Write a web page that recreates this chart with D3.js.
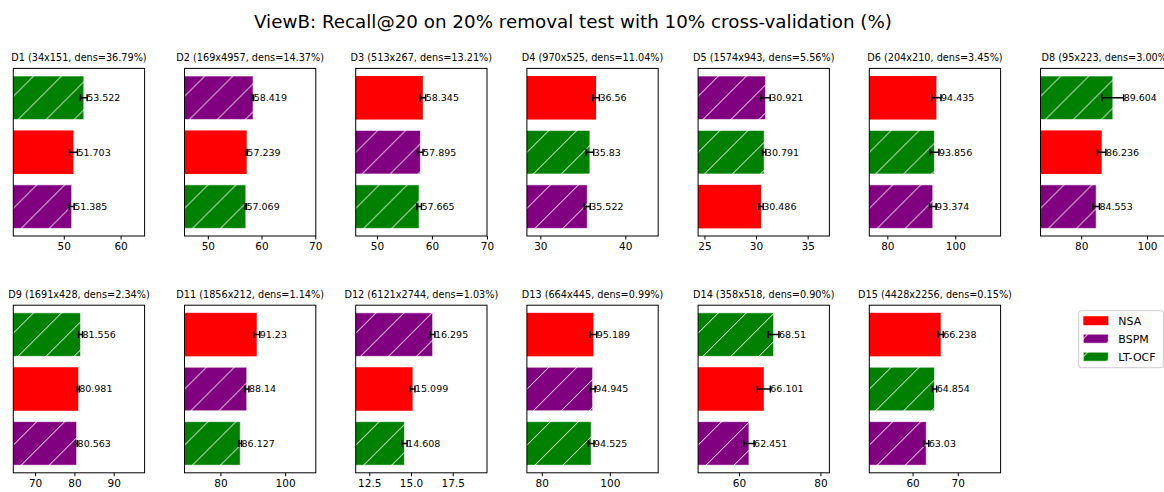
<!DOCTYPE html>
<html>
<head>
<meta charset="utf-8">
<script src="https://cdn.jsdelivr.net/npm/d3@7"></script>
<style>
  body { margin: 0; background: #fff; }
  text { font-family: "DejaVu Sans", sans-serif; fill: #000; }
</style>
</head>
<body>
<div id="container"></div>
<script>
/* CONSTANTS AND GLOBALS */
const width = 1164,
  height = 492;

// panel grid (7 columns, 2 rows)
const colLeft = 13.3, colStep = 171.2, panelW = 131.3;
const rowTops = [68.4, 305.2], panelH = 167.6;

/* DATA */
const methods = ["NSA", "BSPM", "LT-OCF"];
const colors = {"NSA": "red", "BSPM": "purple", "LT-OCF": "green"};
const hatched = {"NSA": false, "BSPM": true, "LT-OCF": true};

const panelTitles = [
  "D1 (34x151, dens=36.79%)", "D2 (169x4957, dens=14.37%)", "D3 (513x267, dens=13.21%)",
  "D4 (970x525, dens=11.04%)", "D5 (1574x943, dens=5.56%)", "D6 (204x210, dens=3.45%)",
  "D8 (95x223, dens=3.00%)", "D9 (1691x428, dens=2.34%)", "D11 (1856x212, dens=1.14%)",
  "D12 (6121x2744, dens=1.03%)", "D13 (664x445, dens=0.99%)", "D14 (358x518, dens=0.90%)",
  "D15 (4428x2256, dens=0.15%)"
];

const nsaValues   = [51.703, 57.239, 58.345, 36.56, 30.486, 94.435, 86.236, 80.981, 91.23, 15.099, 95.189, 66.101, 66.238];
const bspmValues  = [51.385, 58.419, 57.895, 35.522, 30.921, 93.374, 84.553, 80.563, 88.14, 16.295, 94.945, 62.451, 63.03];
const ltocfValues = [53.522, 57.069, 57.665, 35.83, 30.791, 93.856, 89.604, 81.556, 86.127, 14.608, 94.525, 68.51, 64.854];

// std (error bar half widths)
const nsaErr   = [0.70, 0.12, 0.52, 0.39, 0.21, 1.37, 1.27, 0.25, 0.93, 0.14, 0.98, 1.60, 0.55];
const bspmErr  = [0.44, 0.12, 0.49, 0.35, 0.45, 0.98, 1.00, 0.25, 0.67, 0.14, 0.74, 1.27, 0.55];
const ltocfErr = [0.59, 0.12, 0.42, 0.45, 0.16, 1.33, 3.30, 0.51, 0.41, 0.16, 0.84, 1.31, 0.48];

const tickValues = [
  [50, 60], [50, 60, 70], [50, 60, 70], [30, 40], [25, 30, 35], [80, 100], [80, 100],
  [70, 80, 90], [80, 100], [12.5, 15, 17.5], [80, 100], [60, 80], [60, 70]
];

/* CREATE SVG ELEMENT */
const svg = d3.select("#container")
  .append("svg")
  .attr("width", width)
  .attr("height", height);

const defs = svg.append("defs");

// hatch patterns "/" in white
Object.keys(colors).forEach(m => {
  const p = defs.append("pattern")
    .attr("id", "hatch-" + m)
    .attr("patternUnits", "userSpaceOnUse")
    .attr("width", 28)
    .attr("height", 28);
  p.append("rect").attr("width", 28).attr("height", 28).attr("fill", colors[m]);
  p.append("path")
    .attr("d", "M-7,7 L7,-7 M0,28 L28,0 M21,35 L35,21")
    .attr("stroke", "white")
    .attr("stroke-width", 1);
});

const fillFor = m => hatched[m] ? `url(#hatch-${m})` : colors[m];

// suptitle
svg.append("text")
  .attr("x", 573)
  .attr("y", 28)
  .attr("text-anchor", "middle")
  .style("font-size", "18.3px")
  .text("ViewB: Recall@20 on 20% removal test with 10% cross-validation (%)");

/* DRAW PANELS */
panelTitles.forEach((title, i) => {
  const col = i % 7, row = Math.floor(i / 7);
  const x0 = colLeft + col * colStep, y0 = rowTops[row];

  const rows = methods.map((m, k) => ({
    method: m,
    value: [nsaValues, bspmValues, ltocfValues][k][i],
    err: [nsaErr, bspmErr, ltocfErr][k][i]
  })).sort((a, b) => b.value - a.value); // biggest on top

  const lo = d3.min(rows, d => d.value) * 0.8,
    hi = d3.max(rows, d => d.value) * 1.2;

  const xScale = d3.scaleLinear()
    .domain([lo, hi])
    .range([0, panelW]);

  const yScale = d3.scaleBand()
    .domain(rows.map(d => d.method))
    .range([0, panelH])
    .paddingInner(0.2)
    .paddingOuter(0.14);

  const g = svg.append("g").attr("transform", `translate(${x0},${y0})`);

  const clipId = "clip" + i;
  defs.append("clipPath").attr("id", clipId)
    .append("rect").attr("width", panelW).attr("height", panelH);

  const plot = g.append("g").attr("clip-path", `url(#${clipId})`);

  // bars
  plot.selectAll("rect.bar")
    .data(rows)
    .join("rect")
    .attr("class", "bar")
    .attr("x", xScale(0))
    .attr("y", d => yScale(d.method))
    .attr("width", d => xScale(d.value) - xScale(0))
    .attr("height", yScale.bandwidth())
    .attr("fill", d => fillFor(d.method))
    .attr("stroke", d => hatched[d.method] ? "rgba(255,255,255,0.6)" : "none")
    .attr("stroke-width", 1);

  // error bars
  const eb = plot.selectAll("g.err")
    .data(rows)
    .join("g")
    .attr("class", "err")
    .attr("transform", d => `translate(0,${yScale(d.method) + yScale.bandwidth() / 2})`);

  eb.append("line")
    .attr("x1", d => xScale(d.value - d.err))
    .attr("x2", d => xScale(d.value + d.err))
    .attr("stroke", "black").attr("stroke-width", 1.5);
  eb.selectAll("line.cap")
    .data(d => [d.value - d.err, d.value + d.err])
    .join("line")
    .attr("class", "cap")
    .attr("x1", v => xScale(v)).attr("x2", v => xScale(v))
    .attr("y1", -3.5).attr("y2", 3.5)
    .attr("stroke", "black").attr("stroke-width", 1.5);

  // value labels
  plot.selectAll("text.val")
    .data(rows)
    .join("text")
    .attr("class", "val")
    .attr("x", d => xScale(d.value + d.err))
    .attr("y", d => yScale(d.method) + yScale.bandwidth() / 2)
    .attr("dy", "0.35em")
    .style("font-size", "9.5px")
    .text(d => String(d.value));

  // x axis
  const fmt = tickValues[i].some(t => t % 1 !== 0) ? d3.format(".1f") : d3.format("d");
  const xAxis = d3.axisBottom(xScale)
    .tickValues(tickValues[i])
    .tickFormat(fmt)
    .tickSize(3.5)
    .tickPadding(3);

  g.append("g")
    .attr("transform", `translate(0,${panelH})`)
    .call(xAxis)
    .call(a => a.select(".domain").remove())
    .call(a => a.selectAll("text").style("font-size", "10.5px").attr("fill", "#000").style("font-family", "DejaVu Sans"));

  // frame
  g.append("rect")
    .attr("width", panelW)
    .attr("height", panelH)
    .attr("fill", "none")
    .attr("stroke", "black")
    .attr("stroke-width", 1);

  // panel title
  g.append("text")
    .attr("x", panelW / 2)
    .attr("y", -7.5)
    .attr("text-anchor", "middle")
    .style("font-size", "9.7px")
    .text(title);
});

/* LEGEND */
const legend = svg.append("g").attr("transform", "translate(1078.7,310.7)");
legend.append("rect")
  .attr("width", 84.6).attr("height", 57)
  .attr("rx", 2.5)
  .attr("fill", "white")
  .attr("stroke", "#ccc");

legend.selectAll("g.item")
  .data(methods)
  .join("g")
  .attr("class", "item")
  .attr("transform", (d, k) => `translate(4.6,${10 + k * 18})`)
  .call(item => {
    item.append("rect")
      .attr("y", -4.5)
      .attr("width", 25).attr("height", 9)
      .attr("fill", d => fillFor(d))
      .attr("stroke", d => hatched[d] ? "rgba(255,255,255,0.6)" : "none");
    item.append("text")
      .attr("x", 35)
      .attr("dy", "0.35em")
      .style("font-size", "11px")
      .text(d => d);
  });
</script>
</body>
</html>
